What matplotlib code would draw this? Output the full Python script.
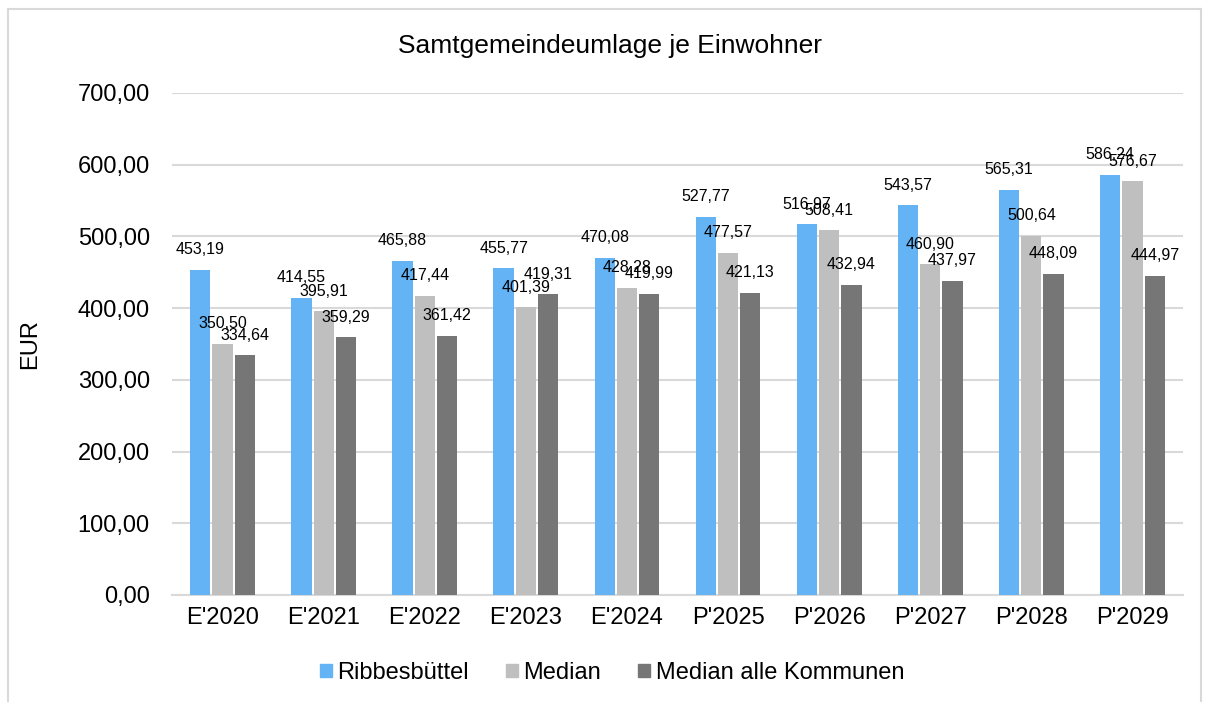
import matplotlib
matplotlib.use("Agg")
import matplotlib.pyplot as plt
import numpy as np
from matplotlib.lines import Line2D

categories = ["E'2020", "E'2021", "E'2022", "E'2023", "E'2024",
              "P'2025", "P'2026", "P'2027", "P'2028", "P'2029"]
ribbesbuettel = [453.19, 414.55, 465.88, 455.77, 470.08, 527.77, 516.97, 543.57, 565.31, 586.24]
median = [350.50, 395.91, 417.44, 401.39, 428.28, 477.57, 508.41, 460.90, 500.64, 576.67]
median_alle = [334.64, 359.29, 361.42, 419.31, 419.99, 421.13, 432.94, 437.97, 448.09, 444.97]
series_names = ["Ribbesbüttel", "Median", "Median alle Kommunen"]
colors = ["#63B3F5", "#BFBFBF", "#767676"]
yticks = [0, 100, 200, 300, 400, 500, 600, 700]

plt.rcParams['font.family'] = ['Liberation Sans', 'DejaVu Sans']

fig = plt.figure(figsize=(12.1, 7.02), dpi=100)
ax = fig.add_axes([172/1210, 1-595/702, (1183-172)/1210, (595-93)/702])

def fmt(v):
    return f"{v:.2f}".replace(".", ",")

x = np.arange(len(categories))
bw = 0.2
step = 0.22
for i, (vals, name, c) in enumerate(zip([ribbesbuettel, median, median_alle], series_names, colors)):
    pos = x + (i - 1) * step
    ax.bar(pos, vals, width=bw, color=c, label=name, zorder=3)
    for px, v in zip(pos, vals):
        ax.annotate(fmt(v), (px, v), xytext=(0, 9), textcoords="offset points",
                    ha="center", va="bottom", fontsize=11.5, color="#000000", zorder=4)

ax.set_xlim(-0.5, len(categories) - 0.5)
ax.set_ylim(0, 700)
ax.set_yticks(yticks)
ax.set_yticklabels([fmt(v) for v in yticks], fontsize=17)
ax.set_xticks(x)
ax.set_xticklabels(categories, fontsize=17)
ax.tick_params(axis="y", length=0, pad=16)
ax.tick_params(axis="x", length=0, pad=9)
ax.grid(axis="y", color="#D9D9D9", linewidth=1.5, zorder=0)
for s in ["top", "right", "left"]:
    ax.spines[s].set_visible(False)
ax.spines["bottom"].set_color("#D9D9D9")
ax.spines["bottom"].set_linewidth(1.5)
ax.set_ylabel("EUR", fontsize=17, labelpad=26)

fig.text(610/1210, 1-46/702, "Samtgemeindeumlage je Einwohner", ha="center", va="center", fontsize=19)

handles = [plt.Rectangle((0, 0), 1, 1, color=c) for c in colors]
fig.legend(handles, series_names, loc="center", bbox_to_anchor=(612/1210, 1-673/702),
           ncol=3, frameon=False, fontsize=17, handlelength=0.5, handleheight=0.5,
           handletextpad=0.25, columnspacing=1.55)

# outer chart border
bc = "#D9D9D9"
fig.add_artist(Line2D([8/1210, 8/1210], [0, 1-9/702], color=bc, lw=1.5, transform=fig.transFigure))
fig.add_artist(Line2D([8/1210, 1201/1210], [1-9/702, 1-9/702], color=bc, lw=1.5, transform=fig.transFigure))
fig.add_artist(Line2D([1201/1210, 1201/1210], [0, 1-9/702], color=bc, lw=1.5, transform=fig.transFigure))

fig.savefig("out.png", dpi=100, facecolor="white")
